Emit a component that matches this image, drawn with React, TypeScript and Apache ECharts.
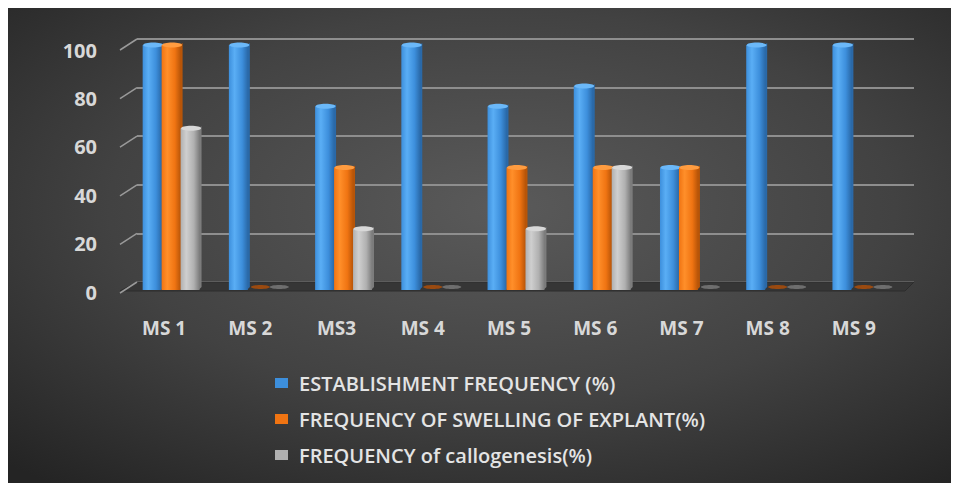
import React, { useEffect, useRef } from "react";
import * as echarts from "echarts";

// Media treatments and their three measured frequencies (%)
const categories = ["MS 1", "MS 2", "MS3", "MS 4", "MS 5", "MS 6", "MS 7", "MS 8", "MS 9"];
const establishment = [100, 100, 75, 100, 75, 83.3, 50, 100, 100];
const swelling = [100, 0, 50, 0, 50, 50, 50, 0, 0];
const callogenesis = [66, 0, 25, 0, 25, 50, 0, 0, 0];
const seriesNames = [
  "ESTABLISHMENT FREQUENCY (%)",
  "FREQUENCY OF SWELLING OF EXPLANT(%)",
  "FREQUENCY of callogenesis(%)",
];
const yTicks = [0, 20, 40, 60, 80, 100];

// face colours per series: [light edge, main, dark edge, cap, flat disc]
const palettes = [
  ["#5aaef5", "#3d8fdc", "#2a69a8", "#6bb8f8", "#2c5f95"],
  ["#ff8f2a", "#f07412", "#b85508", "#ff9c40", "#9a4a10"],
  ["#cfcfcf", "#b0b0b0", "#7c7c7c", "#d8d8d8", "#6e6e6e"],
];

const FONT = "'Open Sans', 'DejaVu Sans', sans-serif";

function barRenderer(si: number) {
  const pal = palettes[si];
  return (params: any, api: any) => {
    const idx = api.value(0);
    const val = api.value(1);
    const base = api.coord([idx, 0]);
    const top = api.coord([idx, val]);
    const band = api.size([1, 0])[0];
    const w = band * 0.22;
    const x = base[0] + (si - 1) * w - w / 2;
    if (val <= 0) {
      return {
        type: "ellipse",
        shape: { cx: x + w / 2 + 3, cy: base[1] - 3, rx: w / 2, ry: 2 },
        style: { fill: pal[4] },
      };
    }
    const h = base[1] - top[1];
    return {
      type: "group",
      children: [
        {
          type: "polygon",
          shape: {
            points: [
              [x + w - 1, top[1]],
              [x + w + 2, top[1] - 2],
              [x + w + 2, base[1] - 3],
              [x + w - 1, base[1]],
            ],
          },
          style: { fill: pal[2] },
        },
        {
          type: "rect",
          shape: { x, y: top[1], width: w, height: h },
          style: {
            fill: new echarts.graphic.LinearGradient(0, 0, 1, 0, [
              { offset: 0, color: pal[1] },
              { offset: 0.3, color: pal[0] },
              { offset: 0.7, color: pal[1] },
              { offset: 1, color: pal[2] },
            ]),
          },
        },
        {
          type: "ellipse",
          shape: { cx: x + w / 2 + 1, cy: top[1], rx: w / 2 + 0.5, ry: 2.5 },
          style: { fill: pal[3] },
        },
      ],
    };
  };
}

export default function App() {
  const ref = useRef<HTMLDivElement>(null);

  useEffect(() => {
    if (!ref.current) return;
    const chart = echarts.init(ref.current, undefined, { renderer: "svg" });
    const seriesData = [establishment, swelling, callogenesis];

    chart.setOption({
      animation: false,
      backgroundColor: new echarts.graphic.RadialGradient(0.52, 0.42, 0.75, [
        { offset: 0, color: "#5a5a5a" },
        { offset: 0.55, color: "#424242" },
        { offset: 1, color: "#242424" },
      ]),
      legend: {
        orient: "vertical",
        left: 268,
        top: 365,
        padding: 0,
        itemWidth: 13,
        itemHeight: 10,
        itemGap: 16,
        icon: "rect",
        data: seriesNames,
        textStyle: {
          color: "#e4e4e4",
          fontFamily: FONT,
          fontSize: 20,
          fontWeight: 600,
          lineHeight: 20,
          padding: [0, 0, 0, 6],
        },
      },
      grid: [
        // front plane holding the columns
        { left: 121, right: 55, top: 37, bottom: 193 },
        // back wall with the gridlines
        { left: 130, right: 45, top: 31, bottom: 201 },
        // value labels on the left
        { left: 130, right: 45, top: 42, bottom: 191 },
      ],
      xAxis: [
        {
          gridIndex: 0,
          type: "category",
          data: categories,
          axisLine: { show: false },
          axisTick: { show: false },
          axisLabel: {
            margin: 28,
            color: "#d8d8d8",
            fontFamily: FONT,
            fontSize: 19,
            fontWeight: "bold",
            padding: [0, 14, 0, 0],
          },
        },
        { gridIndex: 1, type: "category", data: categories, show: false },
        { gridIndex: 2, type: "category", data: categories, show: false },
      ],
      yAxis: [
        { gridIndex: 0, type: "value", min: 0, max: 100, interval: 20, show: false },
        {
          gridIndex: 1,
          type: "value",
          min: 0,
          max: 100,
          interval: 20,
          axisLine: { show: false },
          axisTick: { show: false },
          axisLabel: { show: false },
          splitLine: { show: true, lineStyle: { color: "#8e8e8e", width: 2 } },
        },
        {
          gridIndex: 2,
          type: "value",
          min: 0,
          max: 100,
          interval: 20,
          axisLine: { show: false },
          axisTick: { show: false },
          splitLine: { show: false },
          axisLabel: {
            margin: 40,
            color: "#d8d8d8",
            fontFamily: FONT,
            fontSize: 20,
            fontWeight: "bold",
          },
        },
      ],
      series: [
        // floor slab beneath the columns
        {
          type: "custom",
          xAxisIndex: 1,
          yAxisIndex: 1,
          silent: true,
          z: 1,
          data: [[0, 0]],
          renderItem: (params: any, api: any) => {
            const cs = params.coordSys;
            const y0 = api.coord([0, 0])[1];
            return {
              type: "polygon",
              shape: {
                points: [
                  [cs.x, y0],
                  [cs.x + cs.width, y0],
                  [cs.x + cs.width - 9, y0 + 9],
                  [cs.x - 17, y0 + 9],
                ],
              },
              style: { fill: "#363636", stroke: "#2c2c2c", lineWidth: 1 },
            };
          },
        },
        // slanted ticks on the side wall
        {
          type: "custom",
          xAxisIndex: 1,
          yAxisIndex: 1,
          silent: true,
          z: 2,
          data: yTicks.map((v) => [0, v]),
          renderItem: (params: any, api: any) => {
            const cs = params.coordSys;
            const y = api.coord([0, api.value(1)])[1];
            return {
              type: "line",
              shape: { x1: cs.x, y1: y, x2: cs.x - 17, y2: y + 11 },
              style: { stroke: "#9a9a9a", lineWidth: 1.5 },
            };
          },
        },
        ...seriesData.map((arr, si) => ({
          name: seriesNames[si],
          type: "custom",
          xAxisIndex: 0,
          yAxisIndex: 0,
          z: 5 + si,
          itemStyle: { color: palettes[si][1] },
          encode: { x: 0, y: 1 },
          data: arr.map((v, i) => [i, v]),
          renderItem: barRenderer(si),
        })),
      ],
    });

    return () => chart.dispose();
  }, []);

  return (
    <div
      ref={ref}
      style={{ width: 952, height: 475, marginLeft: -1 }}
    />
  );
}
